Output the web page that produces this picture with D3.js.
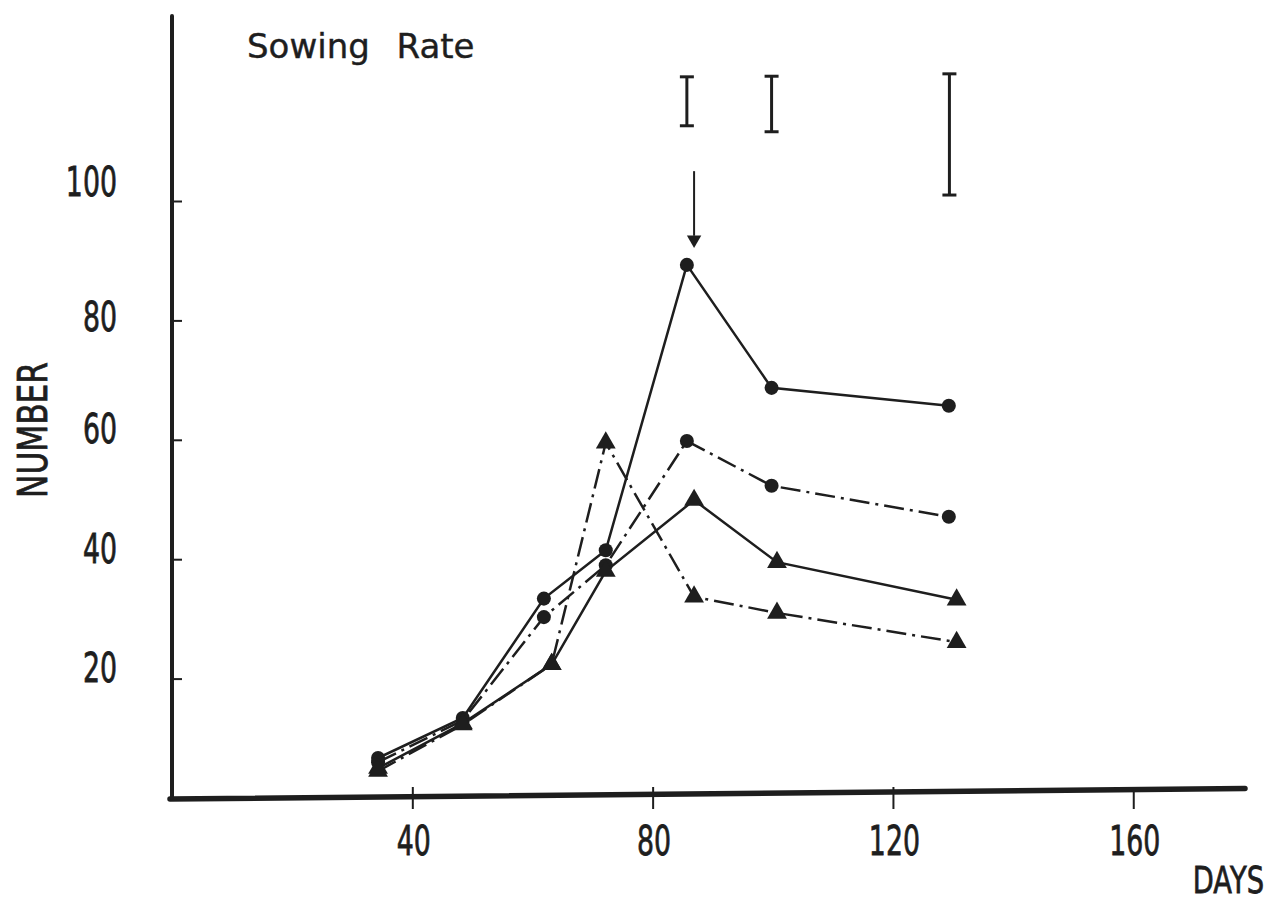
<!DOCTYPE html>
<html>
<head>
<meta charset="utf-8">
<script src="https://cdn.jsdelivr.net/npm/d3@7"></script>
<style>
  body { margin: 0; background: #fff; }
  svg { display: block; }
  .lbl { font-family: "DejaVu Sans", sans-serif; fill: #1e1e1e; stroke: #1e1e1e; stroke-width: 0.8px; }
</style>
</head>
<body>
<div id="chart"></div>
<script>
// days after sowing
const daysCircle   = [34.3, 48.4, 61.9, 72.2, 85.7, 99.8, 129.3];
const daysTriangle = [34.3, 48.4, 63.2, 72.2, 86.9, 100.7, 130.6];

// series values (number)
const solidCircle   = [6.7, 13.4, 33.4, 41.5, 89.3, 68.7, 65.7];
const dashCircle    = [6.0, 13.0, 30.3, 39.0, 59.8, 52.3, 47.1];
const solidTriangle = [5.0, 12.5, 22.4, 38.0, 49.9, 39.5, 33.2];
const dashTriangle  = [4.5, 12.3, 22.4, 59.5, 33.7, 31.0, 26.1];

// LSD bars shown at top: day, high, low
const lsdDays = [85.7, 99.8, 129.4];
const lsdHigh = [120.8, 120.9, 121.3];
const lsdLow  = [112.6, 111.6, 101.0];

// arrow marking the peak
const arrowDay = 86.9, arrowFrom = 105.0, arrowTo = 92.5;

const xTicks = [40, 80, 120, 160];
const yTicks = [20, 40, 60, 80, 100];

const W = 1268, H = 901;
const ink = "#1e1e1e";

const svg = d3.select("#chart").append("svg")
  .attr("width", W).attr("height", H);

const x = d3.scaleLinear().domain([0, 178.6]).range([172, 1245]);
const y = d3.scaleLinear().domain([0, 100]).range([798, 201]);

// x axis, ticks cross the line
const xAxis = svg.append("g")
  .attr("transform", "translate(0," + y(0) + ")")
  .call(d3.axisBottom(x).tickValues(xTicks).tickSize(10).tickFormat(d3.format("d")));
xAxis.select(".domain").remove();
xAxis.selectAll(".tick line").attr("y1", -11).attr("y2", 11).attr("stroke", ink).attr("stroke-width", 2);
xAxis.selectAll(".tick text")
  .attr("class", "lbl").style("font-size", "40px").attr("fill", ink)
  .attr("y", 0)
  .attr("transform", "translate(1,29) scale(0.67,1)");

svg.append("line")
  .attr("x1", x(0) - 2).attr("x2", x(178.6))
  .attr("y1", y(0) + 1).attr("y2", y(1.6))
  .attr("stroke", ink).attr("stroke-width", 5.5).attr("stroke-linecap", "round");

// y axis, ticks inside
const yAxis = svg.append("g")
  .attr("transform", "translate(" + x(0) + ",0)")
  .call(d3.axisLeft(y).tickValues(yTicks).tickSize(-10).tickFormat(d3.format("d")));
yAxis.select(".domain").remove();
yAxis.selectAll(".tick line").attr("stroke", ink).attr("stroke-width", 2);
yAxis.selectAll(".tick text")
  .attr("class", "lbl").style("font-size", "40px").attr("fill", ink)
  .attr("x", 0)
  .attr("transform", d => "translate(-55," + (d == 100 ? -18 : d == 80 ? -3 : -10) + ") scale(0.67,1)");

svg.append("line")
  .attr("x1", x(0)).attr("x2", x(0))
  .attr("y1", 16).attr("y2", y(0))
  .attr("stroke", ink).attr("stroke-width", 4).attr("stroke-linecap", "round");

// axis titles
svg.append("text").attr("class", "lbl")
  .attr("text-anchor", "end")
  .attr("transform", "translate(1264,893) scale(0.72,1)")
  .style("font-size", "38px")
  .text("DAYS");

svg.append("text").attr("class", "lbl")
  .attr("text-anchor", "middle")
  .attr("transform", "translate(47,430) rotate(-90) scale(0.78,1)")
  .style("font-size", "40px")
  .text("NUMBER");

svg.append("text").attr("class", "lbl")
  .attr("x", 247).attr("y", 58)
  .style("font-size", "34px")
  .style("stroke-width", "0.4px")
  .style("word-spacing", "16px")
  .text("Sowing Rate");

// series
const dashDot = "20,6,3,6";
const series = [
  { xs: daysCircle, vals: solidCircle, dash: null, mark: "circle" },
  { xs: daysCircle, vals: dashCircle, dash: dashDot, mark: "circle" },
  { xs: daysTriangle, vals: solidTriangle, dash: null, mark: "triangle" },
  { xs: daysTriangle, vals: dashTriangle, dash: dashDot, mark: "triangle" }
];

const line = d3.line().x(d => x(d[0])).y(d => y(d[1]));

series.forEach(function(s) {
  const pts = s.xs.map((d, i) => [d, s.vals[i]]);
  svg.append("path")
    .attr("d", line(pts))
    .attr("fill", "none")
    .attr("stroke", ink)
    .attr("stroke-width", 2.5)
    .attr("stroke-dasharray", s.dash);

  const sym = d3.symbol()
    .type(s.mark == "circle" ? d3.symbolCircle : d3.symbolTriangle)
    .size(s.mark == "circle" ? 155 : 170);
  svg.append("g").selectAll("path")
    .data(pts)
    .enter().append("path")
    .attr("d", sym)
    .attr("transform", d => "translate(" + x(d[0]) + "," + y(d[1]) + ")")
    .attr("fill", ink);
});

// LSD bars
const bars = svg.append("g").selectAll("g")
  .data(lsdDays)
  .enter().append("g")
  .attr("stroke", ink).attr("stroke-width", 3);
bars.append("line")
  .attr("x1", d => x(d)).attr("x2", d => x(d))
  .attr("y1", (d, i) => y(lsdHigh[i])).attr("y2", (d, i) => y(lsdLow[i]));
bars.append("line")
  .attr("x1", d => x(d) - 7).attr("x2", d => x(d) + 7)
  .attr("y1", (d, i) => y(lsdHigh[i])).attr("y2", (d, i) => y(lsdHigh[i]));
bars.append("line")
  .attr("x1", d => x(d) - 7).attr("x2", d => x(d) + 7)
  .attr("y1", (d, i) => y(lsdLow[i])).attr("y2", (d, i) => y(lsdLow[i]));

// arrow
svg.append("line")
  .attr("x1", x(arrowDay)).attr("x2", x(arrowDay))
  .attr("y1", y(arrowFrom)).attr("y2", y(arrowTo) - 10)
  .attr("stroke", ink).attr("stroke-width", 2);
svg.append("path")
  .attr("d", d3.symbol().type(d3.symbolTriangle).size(90))
  .attr("transform", "translate(" + x(arrowDay) + "," + (y(arrowTo) - 6) + ") rotate(180)")
  .attr("fill", ink);
</script>
</body>
</html>
